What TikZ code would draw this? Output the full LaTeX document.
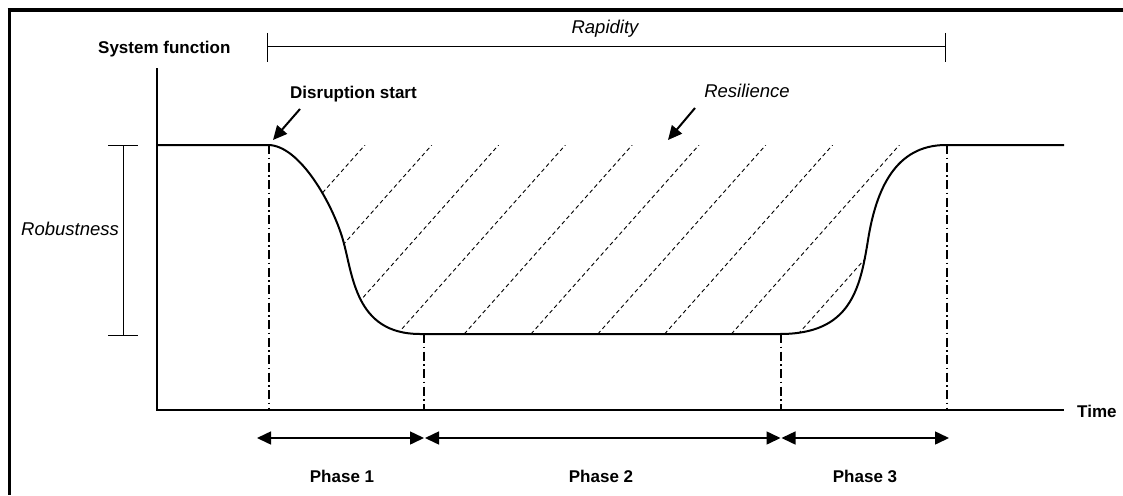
\documentclass[tikz,border=0pt]{standalone}
\usepackage{fontspec}
\setmainfont{Liberation Sans}
\usetikzlibrary{arrows.meta}
\begin{document}
\begin{tikzpicture}[x=1pt,y=-1pt,
  lbl/.style={inner sep=0pt, font=\fontsize{17}{20}\selectfont\bfseries},
  ilbl/.style={inner sep=0pt, font=\fontsize{18.5}{22}\selectfont\itshape},
  axis/.style={line width=2pt},
  curve/.style={line width=2pt, line join=round},
  marker/.style={line width=1.6pt, dash pattern=on 9pt off 3.5pt on 1.5pt off 3.5pt},
  hatch/.style={line width=0.9pt, dash pattern=on 4pt off 3pt},
  bar/.style={line width=1pt},
  span/.style={line width=1.5pt, {Triangle[length=14pt,width=13pt]}-{Triangle[length=14pt,width=13pt]}},
  pointer/.style={line width=2pt, -{Triangle[length=14pt,width=13pt]}}
]
\useasboundingbox (0,0) rectangle (1123,495);

% outer frame (top and left edges)
\draw[line width=4pt] (7.5,10.5) -- (1123,10.5);
\draw[line width=3.3pt] (9.6,8.5) -- (9.6,495);

% axes
\coordinate (ytop) at (157,68);
\coordinate (orig) at (157,410);
\coordinate (xend) at (1064,410);
\draw[axis] (ytop) -- (orig) -- (xend);
\node[lbl, anchor=base west] (time) at (1077,417) {Time};
\node[lbl, anchor=base west] (sysf) at (98,54) {System function};

% hatched resilience area
\begin{scope}
  \clip (268,145) .. controls (300,145) and (333,205) .. (343,240)
        .. controls (353,275) and (355,334) .. (420,334)
        -- (780,334) .. controls (850,334) and (860,290) .. (868,240)
        .. controls (876,190) and (895,145) .. (946,145) -- cycle;
  \foreach \k in {0,...,9}
    \draw[hatch] (197+66.8*\k,334) -- (365+66.8*\k,145);
\end{scope}

% system function curve
\draw[curve] (157,145) -- (268,145)
  .. controls (300,145) and (333,205) .. (343,240)
  .. controls (353,275) and (355,334) .. (420,334)
  -- (780,334)
  .. controls (850,334) and (860,290) .. (868,240)
  .. controls (876,190) and (895,145) .. (946,145)
  -- (1064,145);

% phase boundaries
\coordinate (m0) at (269,145); \coordinate (n0) at (269,410);
\coordinate (m1) at (424,334); \coordinate (n1) at (424,410);
\coordinate (m2) at (781,334); \coordinate (n2) at (781,410);
\coordinate (m3) at (947,145); \coordinate (n3) at (947,410);
\foreach \i in {0,...,3} \draw[marker] (m\i) -- (n\i);

% phase spans
\coordinate (p0) at (257,438);
\coordinate (p1a) at (424,438);
\coordinate (p1b) at (425,438);
\coordinate (p2a) at (780.5,438);
\coordinate (p2b) at (781.5,438);
\coordinate (p3) at (949,438);
\draw[span] (p0) -- (p1a);
\draw[span] (p1b) -- (p2a);
\draw[span] (p2b) -- (p3);
\node[lbl, anchor=base] (ph1) at (342,482) {Phase 1};
\node[lbl, anchor=base] (ph2) at (601,482) {Phase 2};
\node[lbl, anchor=base] (ph3) at (865,482) {Phase 3};

% rapidity bar
\coordinate (ra) at (267,47);
\coordinate (rb) at (945,47);
\draw[bar] (ra) -- (rb);
\draw[bar] (267,33) -- (267,62);
\draw[bar] (945,33) -- (945,62);
\node[ilbl, anchor=base] (rap) at (605,34) {Rapidity};

% robustness bar
\coordinate (ba) at (123,145);
\coordinate (bb) at (123,335);
\draw[bar] (ba) -- (bb);
\draw[bar] (108,145) -- (138,145);
\draw[bar] (108,335) -- (138,335);
\node[ilbl, anchor=base] (rob) at (70,235) {Robustness};

% pointers
\node[lbl, anchor=base west] (dis) at (290,98) {Disruption start};
\node[ilbl, anchor=base] (res) at (747,97) {Resilience};
\coordinate (dtail) at (300,109);
\coordinate (dtip) at (273,140);
\coordinate (rtail) at (695,108);
\coordinate (rtip) at (668,140);
\draw[pointer] (dtail) -- (dtip);
\draw[pointer] (rtail) -- (rtip);
\end{tikzpicture}
\end{document}
